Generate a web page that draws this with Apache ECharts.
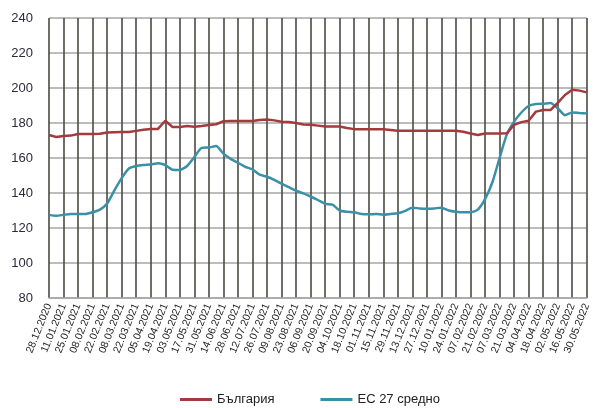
<!DOCTYPE html>
<html>
<head>
<meta charset="utf-8">
<script src="https://cdn.jsdelivr.net/npm/echarts@6/dist/echarts.min.js"></script>
<style>html,body{margin:0;padding:0;background:#fff;}#c{width:593px;height:408px;}</style>
</head>
<body>
<div id="c"></div>
<script>
// Weekly categories from 28.12.2020 to 30.05.2022
var startDate = [2020, 12, 28];
var weekCount = 75;
function buildDates() {
  var out = [];
  var d = new Date(Date.UTC(startDate[0], startDate[1] - 1, startDate[2]));
  for (var i = 0; i < weekCount; i++) {
    var dd = String(d.getUTCDate()).padStart(2, '0');
    var mm = String(d.getUTCMonth() + 1).padStart(2, '0');
    out.push(dd + '.' + mm + '.' + d.getUTCFullYear());
    d.setUTCDate(d.getUTCDate() + 7);
  }
  return out;
}
var categories = buildDates();

var seriesNames = ['България', 'ЕС 27 средно'];

var bulgaria = [
  173.1, 172.0, 172.6, 172.8, 173.7, 173.7, 173.7, 173.8, 174.6, 174.7,
  174.8, 174.8, 175.5, 176.2, 176.6, 176.6, 181.3, 177.7, 177.7, 178.3,
  177.8, 178.3, 178.9, 179.3, 181.0, 181.1, 181.1, 181.1, 181.1, 181.7,
  182.0, 181.5, 180.7, 180.6, 180.0, 179.2, 179.0, 178.5, 178.0, 178.0,
  178.0, 177.2, 176.5, 176.5, 176.5, 176.5, 176.4, 176.0, 175.6, 175.6,
  175.6, 175.6, 175.6, 175.6, 175.6, 175.6, 175.6, 175.0, 174.0, 173.2,
  174.0, 174.0, 174.0, 174.1, 179.0, 180.5, 181.3, 186.5, 187.4, 187.4,
  191.5, 196.0, 199.0, 198.5, 197.5
];

var eu27 = [
  127.5, 127.0, 127.5, 128.0, 128.0, 128.0, 129.0, 130.5, 134.0, 141.5,
  148.5, 154.0, 155.4, 156.0, 156.3, 157.0, 156.0, 153.3, 153.2, 155.4,
  160.5, 165.8, 166.0, 166.8, 162.5, 159.5, 157.3, 155.0, 153.5, 150.5,
  149.3, 147.5, 145.3, 143.3, 141.3, 139.8, 138.0, 136.0, 133.8, 133.3,
  130.0, 129.3, 129.0, 128.0, 127.8, 128.0, 127.6, 128.0, 128.4, 129.8,
  131.6, 131.2, 131.0, 131.2, 131.6, 130.0, 129.3, 129.0, 129.0, 130.5,
  136.5, 146.0, 160.0, 173.5, 180.8, 186.0, 189.7, 190.8, 191.0, 191.4,
  188.5, 184.5, 186.0, 185.7, 185.5
];

var yMin = 80, yMax = 240, yStep = 20;
var colors = ['#A33A3C', '#3A90A4'];

var chart = echarts.init(document.getElementById('c'), null, {renderer: 'canvas'});
chart.setOption({
  animation: false,
  backgroundColor: '#ffffff',
  color: colors,
  grid: {left: 49, right: 4, top: 18, bottom: 110, containLabel: false},
  legend: {
    bottom: -3,
    left: 175,
    itemGap: 46,
    itemWidth: 32,
    itemHeight: 3,
    icon: 'rect',
    textStyle: {fontFamily: 'Liberation Sans, Arial', fontSize: 13, color: '#222'},
    data: seriesNames
  },
  xAxis: {
    type: 'category',
    data: categories,
    boundaryGap: false,
    axisLine: {show: true, lineStyle: {color: '#a6a6a6', width: 1.5}},
    axisTick: {show: false},
    splitLine: {
      show: true,
      interval: function (idx) { return idx % 2 === 0; },
      lineStyle: {color: '#4a4a44', width: 1.6}
    },
    axisLabel: {
      interval: 1,
      rotate: 68,
      margin: 6,
      fontFamily: 'Liberation Sans, Arial',
      fontSize: 10.5,
      color: '#222'
    }
  },
  yAxis: {
    type: 'value',
    min: yMin,
    max: yMax,
    interval: yStep,
    axisLine: {show: false},
    axisTick: {show: false},
    splitLine: {show: true, lineStyle: {color: '#a6a6a6', width: 1.5}},
    axisLabel: {
      margin: 16,
      fontFamily: 'Liberation Sans, Arial',
      fontSize: 13,
      color: '#2b2b3a'
    }
  },
  series: [
    {
      name: seriesNames[0],
      type: 'line',
      data: bulgaria,
      symbol: 'none',
      lineStyle: {width: 2.5, color: colors[0]},
      z: 3
    },
    {
      name: seriesNames[1],
      type: 'line',
      data: eu27,
      symbol: 'none',
      smooth: 0.2,
      lineStyle: {width: 2.5, color: colors[1]},
      z: 2
    }
  ]
});
</script>
</body>
</html>
